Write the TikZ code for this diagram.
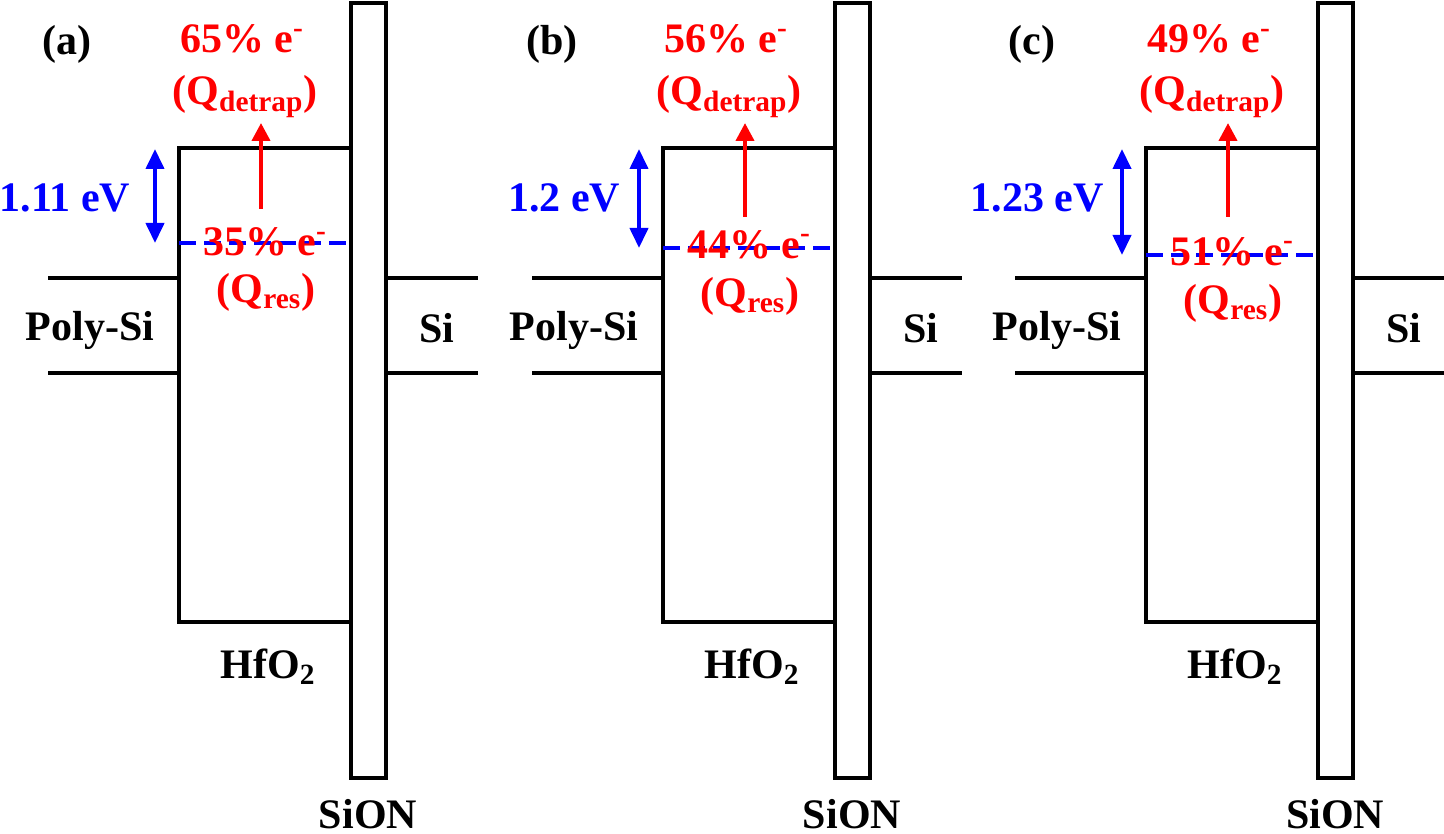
\documentclass[tikz,border=0pt]{standalone}
\usepackage{fontspec}
\setmainfont{Liberation Serif}
\usetikzlibrary{arrows.meta}
\definecolor{myred}{RGB}{255,0,0}
\definecolor{myblue}{RGB}{0,0,255}
\begin{document}
\begin{tikzpicture}[x=0.5pt,y=-0.5pt,
  band/.style={line width=2pt, line join=miter, line cap=rect},
  lbl/.style={inner sep=0pt, anchor=base, font=\fontsize{21}{21}\selectfont\bfseries},
  rlbl/.style={lbl, text=myred},
  blbl/.style={lbl, text=myblue},
  level/.style={myblue, line width=2.2pt, dash pattern=on 8.5pt off 4pt},
  gaparrow/.style={myblue, line width=2pt, {Triangle[length=10pt,width=9pt]}-{Triangle[length=10pt,width=9pt]}},
  emit/.style={myred, line width=2pt, -{Triangle[length=9pt,width=9pt]}}]
\useasboundingbox (0,0) rectangle (1444,834);
\foreach \p/\dx/\tag/\tagx/\ev/\evx/\up/\down/\lev/\arb/\resb/\qresb in
  {a/0/(a)/67/{1.11 eV}/65/65/35/243/209/256/302,
   b/484/(b)/68/{1.2 eV}/80/56/44/248/217/258/306,
   c/967/(c)/65/{1.23 eV}/70/49/51/255/217/265/313}{
  \begin{scope}[shift={(\dx,0)}]
    % band lines
    \draw[band] (50,278) -- (179,278);
    \draw[band] (50,373) -- (179,373);
    \draw[band] (351,148) -- (179,148) -- (179,622) -- (351,622);
    \draw[band] (351,3) rectangle (386,778);
    \draw[band] (386,278) -- (476,278);
    \draw[band] (386,373) -- (476,373);
    % trap level
    \coordinate (lvL\p) at (179,\lev);
    \coordinate (lvR\p) at (351,\lev);
    \draw[level] (lvL\p) -- (lvR\p);
    % energy gap arrow
    \coordinate (gT\p) at (155,149);
    \coordinate (gB\p) at (155,\lev);
    \draw[gaparrow] (gT\p) -- (gB\p);
    % detrap arrow
    \coordinate (rB\p) at (261,\arb);
    \coordinate (rT\p) at (261,123);
    \draw[emit] (rB\p) -- (rT\p);
    % labels
    \node[lbl] (tag\p) at (\tagx,55) {\tag};
    \node[blbl] (ev\p) at (\evx,212) {\ev};
    \node[rlbl] (up\p) at (242,53) {\up\% e\textsuperscript{-}};
    \node[rlbl] (qd\p) at (245,105) {(Q\textsubscript{detrap})};
    \node[rlbl] (dn\p) at (265,\resb) {\down\% e\textsuperscript{-}};
    \node[rlbl] (qr\p) at (266,\qresb) {(Q\textsubscript{res})};
    \node[lbl] (poly\p) at (90,340) {Poly-Si};
    \node[lbl] (si\p) at (437,342) {Si};
    \node[lbl] (hf\p) at (268,678) {HfO\textsubscript{2}};
    \node[lbl] (sion\p) at (368,828) {SiON};
  \end{scope}
}
\end{tikzpicture}
\end{document}
